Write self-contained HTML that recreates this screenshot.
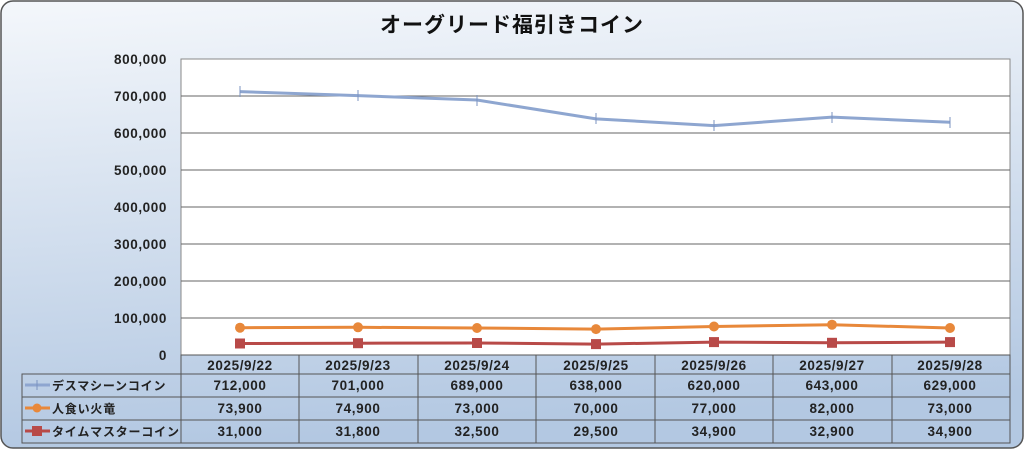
<!DOCTYPE html><html><head><meta charset="utf-8"><style>
body{margin:0;width:1024px;height:450px;overflow:hidden;background:#fff}
</style></head><body>
<svg width="1024" height="450" xmlns="http://www.w3.org/2000/svg" font-family="'Liberation Sans','Noto Sans CJK JP',sans-serif">
<defs><linearGradient id="bg" x1="0" y1="0" x2="0.15" y2="1"><stop offset="0" stop-color="#f4f7fb"/><stop offset="1" stop-color="#b3c8e2"/></linearGradient></defs>
<rect x="1" y="1" width="1022" height="447" rx="12" fill="url(#bg)" stroke="#555" stroke-width="1.5"/>
<text x="512" y="32" font-size="21" font-weight="bold" text-anchor="middle" fill="#111" letter-spacing="1">オーグリード福引きコイン</text>
<rect x="181" y="59" width="829" height="296" fill="#fff" stroke="#888"/>
<g stroke="#666" stroke-width="1">
<line x1="181" y1="96" x2="1010" y2="96"/><line x1="181" y1="133" x2="1010" y2="133"/><line x1="181" y1="170" x2="1010" y2="170"/><line x1="181" y1="207" x2="1010" y2="207"/><line x1="181" y1="244" x2="1010" y2="244"/><line x1="181" y1="281" x2="1010" y2="281"/><line x1="181" y1="318" x2="1010" y2="318"/></g>
<g font-size="13.5" font-weight="bold" fill="#222" text-anchor="end" letter-spacing="0.6">
<text x="167" y="64">800,000</text><text x="167" y="101">700,000</text><text x="167" y="138">600,000</text><text x="167" y="175">500,000</text><text x="167" y="212">400,000</text><text x="167" y="249">300,000</text><text x="167" y="286">200,000</text><text x="167" y="323">100,000</text><text x="167" y="360">0</text></g>
<polyline fill="none" stroke="#8ea6d0" stroke-width="3" points="240,91.6 358,95.6 477,100 596,118.9 714,125.6 832,117.1 950,122.3"/>
<g stroke="#7b93c0" stroke-width="1"><path d="M240,86v11M358,90v11M477,95v11M596,113v11M714,120v11M832,112v11M950,117v11"/></g>
<polyline fill="none" stroke="#e8883a" stroke-width="3" points="240,327.7 358,327.3 477,328 596,329.1 714,326.5 832,324.7 950,328"/>
<g fill="#e8883a"><circle cx="240" cy="327.7" r="5"/><circle cx="358" cy="327.3" r="5"/><circle cx="477" cy="328" r="5"/><circle cx="596" cy="329.1" r="5"/><circle cx="714" cy="326.5" r="5"/><circle cx="832" cy="324.7" r="5"/><circle cx="950" cy="328" r="5"/></g>
<polyline fill="none" stroke="#b84a48" stroke-width="3" points="240,343.5 358,343.2 477,343 596,344.1 714,342.1 832,342.8 950,342.1"/>
<g fill="#b84a48"><rect x="235" y="338.5" width="10" height="10"/><rect x="353" y="338.2" width="10" height="10"/><rect x="472" y="338" width="10" height="10"/><rect x="591" y="339.1" width="10" height="10"/><rect x="709" y="337.1" width="10" height="10"/><rect x="827" y="337.8" width="10" height="10"/><rect x="945" y="337.1" width="10" height="10"/></g>
<g stroke="#555" stroke-width="1" fill="none">
<rect x="22" y="374" width="988" height="69"/>
<rect x="181" y="355" width="829" height="88"/>
<line x1="22" y1="397" x2="1010" y2="397"/><line x1="22" y1="420" x2="1010" y2="420"/><line x1="181" y1="374" x2="1010" y2="374"/>
<path d="M299,355v88M418,355v88M536,355v88M655,355v88M773,355v88M892,355v88"/></g>
<g font-size="13.5" font-weight="bold" fill="#222" text-anchor="middle" letter-spacing="0.6">
<text x="240" y="370">2025/9/22</text><text x="358" y="370">2025/9/23</text><text x="477" y="370">2025/9/24</text><text x="596" y="370">2025/9/25</text><text x="714" y="370">2025/9/26</text><text x="832" y="370">2025/9/27</text><text x="950" y="370">2025/9/28</text>
<text x="240" y="390">712,000</text><text x="358" y="390">701,000</text><text x="477" y="390">689,000</text><text x="596" y="390">638,000</text><text x="714" y="390">620,000</text><text x="832" y="390">643,000</text><text x="950" y="390">629,000</text>
<text x="240" y="413">73,900</text><text x="358" y="413">74,900</text><text x="477" y="413">73,000</text><text x="596" y="413">70,000</text><text x="714" y="413">77,000</text><text x="832" y="413">82,000</text><text x="950" y="413">73,000</text>
<text x="240" y="436">31,000</text><text x="358" y="436">31,800</text><text x="477" y="436">32,500</text><text x="596" y="436">29,500</text><text x="714" y="436">34,900</text><text x="832" y="436">32,900</text><text x="950" y="436">34,900</text></g>
<line x1="25" y1="385" x2="50" y2="385" stroke="#8ea6d0" stroke-width="3"/><line x1="37" y1="380" x2="37" y2="390" stroke="#7b93c0"/>
<line x1="25" y1="408" x2="50" y2="408" stroke="#e8883a" stroke-width="3"/><circle cx="37" cy="408" r="4.5" fill="#e8883a"/>
<line x1="25" y1="431" x2="50" y2="431" stroke="#b84a48" stroke-width="3"/><rect x="32" y="426" width="10" height="10" fill="#b84a48"/>
<g font-size="12" font-weight="bold" fill="#222" letter-spacing="0.8">
<text x="52" y="390">デスマシーンコイン</text><text x="52" y="413">人食い火竜</text><text x="52" y="436">タイムマスターコイン</text></g>
</svg></body></html>
